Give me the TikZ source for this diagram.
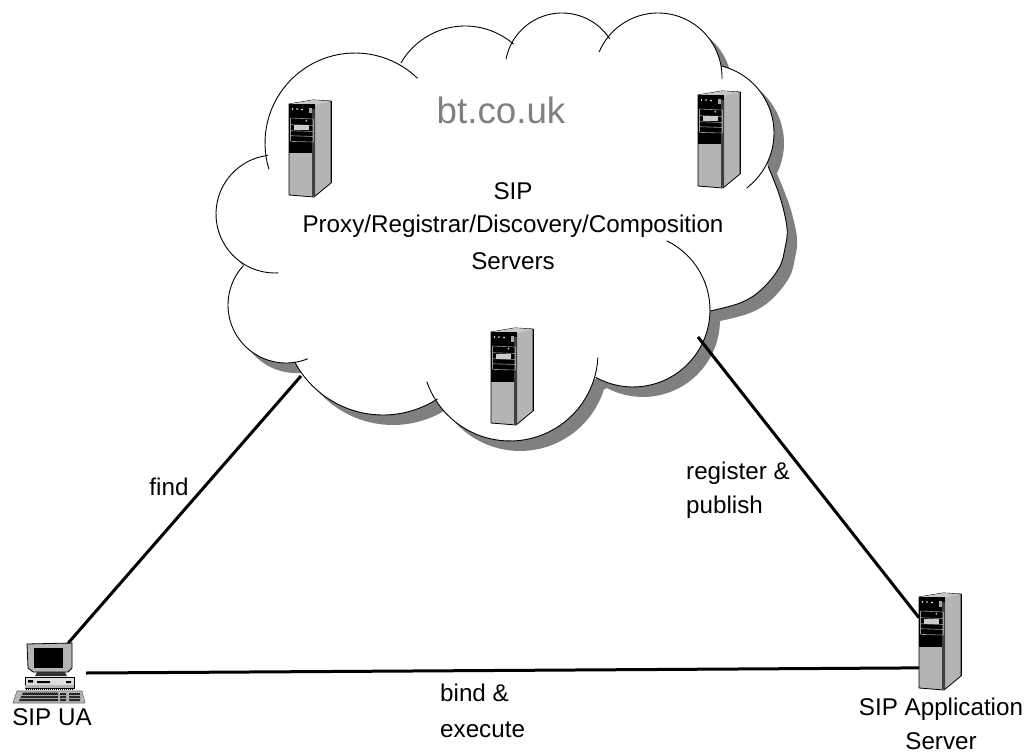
\documentclass[tikz,border=0pt]{standalone}
\usepackage{fontspec}
\setmainfont{Liberation Sans}
\definecolor{shadowgray}{HTML}{808080}
\definecolor{casegray}{HTML}{B4B4B4}
\tikzset{
  lobeline/.style={draw=black,line width=0.9pt},
  conn/.style={draw=black,line width=3pt},
  lbl/.style={inner sep=0pt,font=\fontsize{24.2}{28}\selectfont},
  lblleft/.style={lbl,anchor=west},
  title/.style={inner sep=0pt,text=shadowgray,font=\fontsize{36.7}{42}\selectfont},
  iconbox/.style={inner sep=0pt,outer sep=0pt}
}
% lobe as a circular arc, in picture pixels (y runs downward)
\newcommand{\lobe}[5]{plot[domain=#4:#5,samples=40] ({#1+#3*cos(\x)},{#2+#3*sin(\x)})}
\newcommand{\lobeF}{plot[smooth,tension=0.6] coordinates {(768,166) (780,197) (787,228) (785,248) (779,268) (761,290) (740,303) (710,311)}}
\newcommand{\cloudshape}{
  (268,155) -- (402,63) -- (512,45) -- (612,38) -- (722,67) -- (768,166) -- (710,311) -- (595,379) -- (437,398) -- (293,363) -- (243,265) -- cycle
  \lobe{355}{143}{90}{163}{314} -- (355,143) -- cycle
  \lobe{465}{100}{74}{210}{311} -- (465,100) -- cycle
  \lobe{562}{70}{57}{191}{327} -- (562,70) -- cycle
  \lobe{658}{77}{64}{203}{362} -- (658,77) -- cycle
  \lobe{705}{133}{69}{284}{413} -- (705,133) -- cycle
  \lobeF -- (690,220) -- cycle
  \lobe{633}{310}{77}{296}{479} -- (633,310) -- cycle
  \lobe{510}{353}{88}{3}{161} -- (510,353) -- cycle
  \lobe{383}{315}{100}{57}{152} -- (383,315) -- cycle
  \lobe{286}{305}{58}{68}{223} -- (286,305) -- cycle
  \lobe{275}{214}{59}{87}{263} -- (275,214) -- cycle
}
\newcommand{\serverat}[3]{%
  \node[iconbox,minimum width=42pt,minimum height=96pt] (#1) at (#2+21,#3+44) {};
  \begin{scope}[shift={(#2,#3)}]
    \filldraw[fill=casegray,draw=black,line width=0.8pt,line join=round]
      (0,0) -- (24,-4) -- (42,-3) -- (42,79) -- (25,93) -- (0,91) -- cycle;
    \fill[gray!45] (0,0) -- (24,-4) -- (42,-3) -- (26,1) -- cycle;
    \draw[black,line width=0.8pt] (42,-3) -- (42,79);
    \fill[black] (0,0) rectangle (25.5,49.5);
    \fill[casegray] (1.3,51.5) rectangle (23,90);
    \fill[black!75] (23,5) rectangle (25.5,92);
    \fill[gray!70] (25.5,3) rectangle (26.5,91);
    \fill[white] (3.4,5) circle (0.9) (8,5) circle (0.9) (13,5.6) circle (0.9);
    \fill[gray!70] (20.2,4) rectangle (22.6,9.5);
    \draw[gray!80,line width=0.6pt] (1.5,14) -- (24,15) (1.5,20.7) -- (24,21.5) (1.5,26.7) -- (24,27.5) (1.5,31.7) -- (24,32.5) (1.5,37.4) -- (24,38);
    \draw[gray!80,line width=0.6pt] (1.5,14) -- (1.5,37.4) (24,15) -- (24,38);
    \fill[gray!40] (4.7,21.5) rectangle (20,26.5);
    \fill[gray!55] (17.3,16.7) circle (1);
  \end{scope}
}
\begin{document}
\begin{tikzpicture}[x=1pt,y=-1pt]
\useasboundingbox (0,0) rectangle (1027,754);
\fill[white] (0,0) rectangle (1027,754);
% cloud
\fill[shadowgray,shift={(10,10)}] \cloudshape;
\fill[white] \cloudshape;
\draw[lobeline] \lobe{355}{143}{90}{163}{314};
\draw[lobeline] \lobe{465}{100}{74}{210}{311};
\draw[lobeline] \lobe{562}{70}{57}{191}{327};
\draw[lobeline] \lobe{658}{77}{64}{203}{362};
\draw[lobeline] \lobe{705}{133}{69}{284}{413};
\draw[lobeline] \lobeF;
\draw[lobeline] \lobe{633}{310}{77}{296}{479};
\draw[lobeline] \lobe{510}{353}{88}{3}{161};
\draw[lobeline] \lobe{383}{315}{100}{57}{152};
\draw[lobeline] \lobe{286}{305}{58}{68}{223};
\draw[lobeline] \lobe{275}{214}{59}{87}{263};
\coordinate (cloudSW) at (301,376);
\coordinate (cloudSE) at (698,337);
% servers
\serverat{srvA}{289}{104}
\serverat{srvB}{698}{95}
\serverat{srvC}{491}{332}
\serverat{appsrv}{919}{597}
% user agent PC
\node[iconbox,minimum width=73pt,minimum height=60pt] (pc) at (49.5,673) {};
\filldraw[fill=casegray,draw=black,line width=0.8pt,line join=round] (27,644) -- (72,643) -- (72,668) -- (68,672) -- (33,672) -- (28,668) -- cycle;
\fill[black] (34.3,647.5) -- (63.3,647.5) -- (63.3,668.3) -- (34.3,668.3) -- cycle;
\fill[black!80] (37,672) -- (65,672) -- (67,676) -- (35,676) -- cycle;
\filldraw[fill=gray!25,draw=black,line width=0.7pt] (25,677) rectangle (74,688);
\fill[black] (28,680) rectangle (33,682.5) (37,681) rectangle (50,683) (66,681) rectangle (71,683);
\fill[gray!60] (25,685) rectangle (74,688);
\draw[black,line width=0.7pt,dash pattern=on 1pt off 1pt] (26,689.5) -- (74,689.5);
\filldraw[fill=gray!55,draw=black!60,line width=0.6pt] (17,691) -- (82,691) -- (85,703) -- (13,703) -- cycle;
\fill[black!85] (23,692.5) -- (58,692.5) -- (58,701) -- (19,701) -- cycle;
\fill[black!85] (60,693) rectangle (66,701) (69,693) rectangle (80,701);
\draw[gray!70,line width=0.4pt] (20,695) -- (80,695) (19,698) -- (80,698);
% connectors
\draw[conn] (cloudSW) -- (pc.58);
\draw[conn] (pc.east) -- (appsrv.232);
\draw[conn] (cloudSE) -- (appsrv.132);
% labels
\node[title] (domain) at (501,110) {bt.co.uk};
\node[lbl] (l1) at (513,191) {SIP};
\node[lbl] (l2) at (513,226) {Proxy/Registrar/Discovery/Composition};
\node[lbl] (l3) at (513,261) {Servers};
\node[lbl] (lfind) at (169,487) {find};
\node[lblleft] (lreg) at (686,473) {register \&};
\node[lblleft] (lpub) at (686,507) {publish};
\node[lblleft] (lbind) at (440,693) {bind \&};
\node[lblleft] (lexec) at (440,730) {execute};
\node[lbl] (lua) at (52,717) {SIP UA};
\node[lbl] (lapp) at (941,709) {SIP Application};
\node[lbl] (lsrv) at (941,741.5) {Server};
\end{tikzpicture}
\end{document}
